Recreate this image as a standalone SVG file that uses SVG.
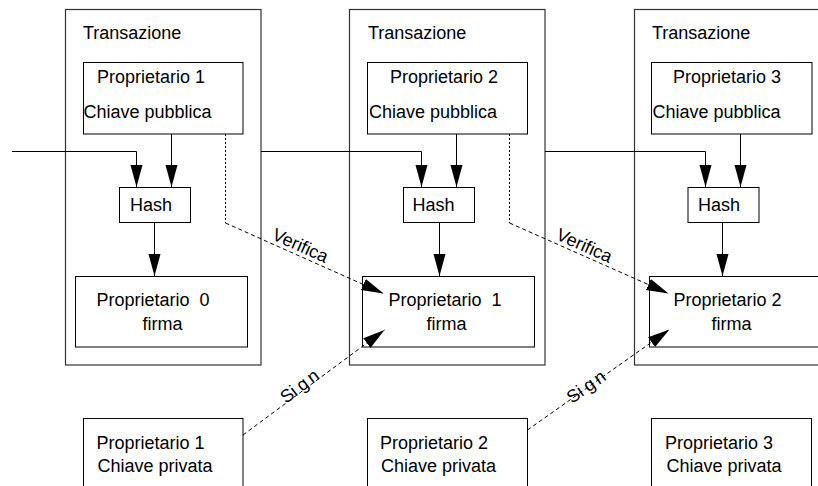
<svg xmlns="http://www.w3.org/2000/svg" width="818" height="486" viewBox="0 0 818 486">
<style>
text{font-family:"Liberation Sans",Arial,sans-serif;font-size:18px;fill:#000}
.box{fill:#fff;stroke:#000;stroke-width:1}
.tx{fill:none;stroke:#333;stroke-width:1.2}
.ln{fill:none;stroke:#000;stroke-width:1}
.dl{fill:none;stroke:#000;stroke-width:1;stroke-dasharray:4,3}
.dv{fill:none;stroke:#000;stroke-width:1;stroke-dasharray:2,2}
</style>
<defs>
<marker id="ah" markerUnits="userSpaceOnUse" markerWidth="24" markerHeight="14" refX="22" refY="6" orient="auto" viewBox="0 0 24 14">
<path d="M0,0 L22,6 L0,12 z" fill="#000"/>
</marker>
</defs>
<rect width="818" height="486" fill="#fff"/>
<g id="tx1"><rect class="tx" x="65.5" y="9.5" width="195.5" height="355.5"/><text x="83" y="39">Transazione</text></g>
<g id="tx2"><rect class="tx" x="349.5" y="9.5" width="195.5" height="355.5"/><text x="368" y="39">Transazione</text></g>
<g id="tx3"><rect class="tx" x="634.5" y="9.5" width="200" height="355.5"/><text x="652" y="39">Transazione</text></g>
<g id="pub1"><rect class="box" x="83.5" y="62.5" width="159.5" height="71.5"/><text x="97" y="83">Proprietario 1</text><text x="83.5" y="118">Chiave pubblica</text></g>
<g id="pub2"><rect class="box" x="367.5" y="62.5" width="160" height="71.5"/><text x="390" y="83">Proprietario 2</text><text x="369" y="118">Chiave pubblica</text></g>
<g id="pub3"><rect class="box" x="651.5" y="62.5" width="160.5" height="71.5"/><text x="673" y="83">Proprietario 3</text><text x="652.5" y="118">Chiave pubblica</text></g>
<g id="hash1"><rect class="box" x="119.5" y="187.5" width="71" height="35"/><text x="130" y="211">Hash</text></g>
<g id="hash2"><rect class="box" x="403.5" y="187.5" width="71" height="35"/><text x="412.5" y="211">Hash</text></g>
<g id="hash3"><rect class="box" x="688" y="187.5" width="71" height="35"/><text x="698" y="211">Hash</text></g>
<g id="sig1"><rect class="box" x="75.5" y="276.5" width="172" height="70.5"/><text x="96.5" y="306" xml:space="preserve">Proprietario  0</text><text x="142.5" y="330">firma</text></g>
<g id="sig2"><rect class="box" x="362.5" y="276.5" width="172" height="70.5"/><text x="388.5" y="306" xml:space="preserve">Proprietario  1</text><text x="426.5" y="330">firma</text></g>
<g id="sig3"><rect class="box" x="649.5" y="276.5" width="180" height="70.5"/><text x="673.5" y="306">Proprietario 2</text><text x="711.5" y="330">firma</text></g>
<g id="priv1"><rect class="box" x="83.5" y="418.5" width="159.5" height="80"/><text x="96.5" y="449">Proprietario 1</text><text x="97.5" y="472">Chiave privata</text></g>
<g id="priv2"><rect class="box" x="367.5" y="418.5" width="160" height="80"/><text x="380" y="449">Proprietario 2</text><text x="381" y="472">Chiave privata</text></g>
<g id="priv3"><rect class="box" x="651.5" y="418.5" width="160" height="80"/><text x="665" y="449">Proprietario 3</text><text x="666.5" y="472">Chiave privata</text></g>
<g id="connectors">
<path class="ln" d="M12,151.5 H136.5 V187" marker-end="url(#ah)"/>
<path class="ln" d="M171.5,134 V187" marker-end="url(#ah)"/>
<path class="ln" d="M154.5,222.5 V276" marker-end="url(#ah)"/>
<path class="ln" d="M261,151.5 H421.5 V187" marker-end="url(#ah)"/>
<path class="ln" d="M456.5,134 V187" marker-end="url(#ah)"/>
<path class="ln" d="M439.5,222.5 V276" marker-end="url(#ah)"/>
<path class="ln" d="M545,151.5 H705.5 V187" marker-end="url(#ah)"/>
<path class="ln" d="M740.5,134 V187" marker-end="url(#ah)"/>
<path class="ln" d="M722.5,222.5 V276" marker-end="url(#ah)"/>
<path class="dv" d="M225.5,134 V223"/>
<path class="dl" d="M225.5,223 L383.5,293.5" marker-end="url(#ah)"/>
<path class="dv" d="M509.5,134 V223"/>
<path class="dl" d="M509.5,223 L668.5,293.5" marker-end="url(#ah)"/>
<path class="dl" d="M243,435 L384.5,330" marker-end="url(#ah)"/>
<path class="dl" d="M527.5,430 L669.5,329.5" marker-end="url(#ah)"/>
<text transform="translate(271,239) rotate(24)">Verifica</text>
<text transform="translate(555,239) rotate(24)">Verifica</text>
<text transform="translate(286,404) rotate(-37)">Si<tspan dx="4">g</tspan><tspan dx="3">n</tspan></text>
<text transform="translate(572,404) rotate(-35)">Si<tspan dx="4">g</tspan><tspan dx="3">n</tspan></text>
</g>
</svg>
